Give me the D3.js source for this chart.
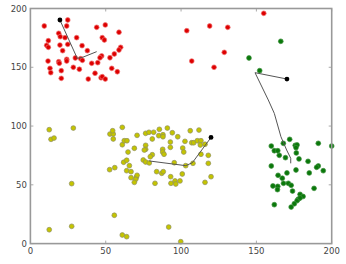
<!DOCTYPE html>
<html>
<head>
<meta charset="utf-8">
<script src="https://cdn.jsdelivr.net/npm/d3@7"></script>
<style>
html,body{margin:0;padding:0;background:#fff;}
svg{display:block;}
text{font-family:"DejaVu Sans",sans-serif;}
</style>
</head>
<body>
<svg id="chart" width="346" height="264"></svg>
<script>
const xTicks = [0, 50, 100, 150, 200];
const yTicks = [0, 50, 100, 150, 200];

const redPoints = [
[9.2,185.1],[24.8,190.2],[24.1,185.1],[18.8,178.9],[19.8,176.0],[23.0,175.2],[11.9,172.6],[10.8,168.7],
[11.9,167.0],[19.6,168.9],[24.8,169.5],[21.4,164.1],[30.7,175.2],[34.3,168.4],[37.8,164.1],[44.0,184.0],
[49.7,186.0],[47.7,175.2],[49.1,173.2],[58.8,179.8],[59.9,167.0],[58.8,164.7],[55.7,161.3],[52.8,158.1],
[11.7,155.3],[18.8,154.7],[19.2,153.4],[24.1,156.8],[24.1,155.3],[29.8,157.9],[33.4,157.3],[34.5,155.9],
[47.3,159.6],[46.2,158.1],[40.7,153.4],[44.7,153.9],[13.0,149.1],[13.5,145.4],[20.5,147.1],[28.5,150.0],
[32.5,148.3],[20.5,140.6],[38.4,140.0],[42.9,144.9],[46.9,141.1],[47.7,142.0],[49.7,140.0],[54.0,149.1],
[57.7,146.2],[103.8,181.1],[119.0,185.1],[131.0,184.0],[154.9,195.9],[107.1,155.3],[121.9,150.0],[128.7,162.7]
];
const greenPoints = [
[172.1,88.7],[159.9,83.0],[167.9,85.3],[175.8,83.6],[177.0,83.9],[176.3,81.6],[191.1,85.3],[200.0,83.0],
[161.9,79.0],[164.2,79.0],[165.2,75.1],[169.3,73.1],[176.5,77.1],[178.3,72.0],[184.3,70.0],[159.9,66.0],
[176.3,62.6],[170.3,60.1],[164.4,58.1],[167.2,55.6],[185.1,60.1],[191.1,66.0],[190.0,64.9],[194.4,62.0],
[161.0,49.0],[164.2,48.7],[164.0,45.9],[168.0,51.3],[171.2,51.3],[173.1,49.6],[174.0,44.7],[188.3,47.0],
[179.0,41.9],[181.0,40.1],[177.8,37.8],[177.0,36.5],[175.2,33.9],[173.1,31.1],[161.9,33.1],[179.0,38.8],
[166.2,172.1],[145.1,157.9],[152.2,147.1]
];
const yellowPoints = [
[12.5,96.9],[13.7,88.7],[15.7,89.8],[28.5,98.3],[27.4,51.0],[12.5,11.8],[27.4,14.7],[55.7,24.1],
[61.0,7.3],[63.9,5.9],[91.8,14.1],[99.8,1.6],[52.6,62.9],[56.0,64.6],[61.0,98.9],[52.8,93.2],
[55.0,93.2],[54.6,96.0],[55.0,89.0],[61.0,84.1],[62.3,87.5],[64.1,87.5],[70.8,92.1],[76.5,93.8],
[78.7,94.7],[81.8,94.7],[85.2,91.8],[88.0,92.6],[88.0,90.9],[85.6,97.2],[90.9,98.3],[94.2,94.3],
[97.8,90.9],[106.1,96.0],[111.9,96.6],[80.9,89.0],[64.8,77.9],[69.0,81.1],[76.5,83.6],[76.5,80.2],
[75.6,79.6],[87.8,80.2],[87.8,77.9],[88.7,76.0],[92.9,86.4],[92.9,81.9],[102.6,87.0],[107.1,85.8],
[108.4,85.8],[110.8,87.5],[113.2,87.5],[112.8,83.9],[115.9,84.5],[101.1,81.3],[101.8,77.9],[80.9,75.6],
[79.6,73.9],[61.9,69.2],[63.9,70.9],[65.7,66.3],[74.9,71.1],[76.5,69.4],[78.9,68.6],[95.5,68.8],
[103.1,66.3],[107.9,68.3],[113.2,76.0],[118.1,75.1],[118.1,68.3],[63.9,62.0],[66.8,61.2],[83.8,61.2],
[87.2,59.8],[88.2,61.2],[100.8,59.2],[66.8,56.1],[70.3,56.4],[70.8,58.1],[69.9,54.7],[69.0,52.1],
[93.1,56.9],[82.7,51.3],[93.3,51.3],[96.0,53.3],[96.5,50.7],[99.3,53.3],[115.9,52.1],[119.9,56.9]
];

// centroid trajectories (older positions first, final centroid last)
const redPath = [[44.0,163.3],[34.7,158.5],[31.1,157.6],[19.6,190.2]];
const yellowPath = [[78.9,70.3],[103.1,66.3],[107.5,68.8],[119.9,90.3]];
const greenPath = [[172.8,68.3],[172.8,72.6],[170.1,79.6],[166.3,90.9],[161.9,110.8],[157.9,122.2],[149.1,145.4],[170.3,140.0]];

const svg = d3.select("#chart");
const mLeft = 30.4, mRight = 331.7, mTop = 8.5, mBottom = 243.6;
const x = d3.scaleLinear().domain([0, 200]).range([mLeft, mRight]);
const y = d3.scaleLinear().domain([0, 200]).range([mBottom, mTop]);

// inward ticks on all sides
const tickLen = 3;
const gAx = svg.append("g");
gAx.selectAll(".tb").data(xTicks).enter().append("line")
  .attr("x1", d => x(d)).attr("x2", d => x(d))
  .attr("y1", mBottom).attr("y2", mBottom - tickLen)
  .attr("stroke", "#aaa").attr("stroke-width", 1);
gAx.selectAll(".tt").data(xTicks).enter().append("line")
  .attr("x1", d => x(d)).attr("x2", d => x(d))
  .attr("y1", mTop).attr("y2", mTop + tickLen)
  .attr("stroke", "#aaa").attr("stroke-width", 1);
gAx.selectAll(".tl").data(yTicks).enter().append("line")
  .attr("x1", mLeft).attr("x2", mLeft + tickLen)
  .attr("y1", d => y(d)).attr("y2", d => y(d))
  .attr("stroke", "#aaa").attr("stroke-width", 1);
gAx.selectAll(".tr").data(yTicks).enter().append("line")
  .attr("x1", mRight).attr("x2", mRight - tickLen)
  .attr("y1", d => y(d)).attr("y2", d => y(d))
  .attr("stroke", "#aaa").attr("stroke-width", 1);

// tick labels
svg.append("g").selectAll("text").data(xTicks).enter().append("text")
  .attr("x", d => x(d)).attr("y", mBottom + 10)
  .attr("text-anchor", "middle").attr("font-size", 8.5).attr("fill", "#444")
  .text(d => d);
svg.append("g").selectAll("text").data(yTicks).enter().append("text")
  .attr("x", mLeft - 3.5).attr("y", d => y(d) + 3)
  .attr("text-anchor", "end").attr("font-size", 8.5).attr("fill", "#444")
  .text(d => d);

function drawPoints(data, fill, stroke) {
  svg.append("g").selectAll("circle").data(data).enter().append("circle")
    .attr("cx", d => x(d[0])).attr("cy", d => y(d[1])).attr("r", 2.4)
    .attr("fill", fill).attr("stroke", stroke).attr("stroke-width", 0.7);
}
drawPoints(redPoints, "#dd0000", "#f07070");
drawPoints(yellowPoints, "#c4c400", "#8f8f60");
drawPoints(greenPoints, "#0a780a", "#3d8f3d");

const line = d3.line().x(d => x(d[0])).y(d => y(d[1]));
[redPath, yellowPath, greenPath].forEach(p => {
  svg.append("path").datum(p).attr("d", line)
    .attr("fill", "none").attr("stroke", "#555").attr("stroke-width", 1);
  const last = p[p.length - 1];
  svg.append("circle").attr("cx", x(last[0])).attr("cy", y(last[1])).attr("r", 2.4)
    .attr("fill", "#000");
});

// frame
svg.append("rect").attr("x", mLeft).attr("y", mTop)
  .attr("width", mRight - mLeft).attr("height", mBottom - mTop)
  .attr("fill", "none").attr("stroke", "#999").attr("stroke-width", 1.6);
</script>
</body>
</html>
